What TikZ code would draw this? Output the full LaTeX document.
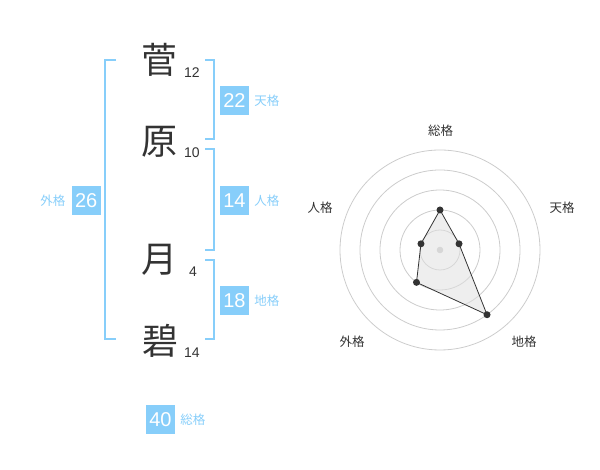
\documentclass[tikz,border=0pt]{standalone}
\usepackage{fontspec}
\setmainfont{Liberation Sans}
\newfontfamily\jpfont{Noto Sans CJK JP}
\usepackage{xcolor}
\definecolor{sky}{RGB}{135, 206, 250}
\definecolor{ink}{RGB}{51, 51, 51}
\definecolor{ring}{RGB}{204, 204, 204}
\usepackage{tikz}
\usetikzlibrary{positioning}
\tikzstyle{kanji} = [font=\jpfont\fontsize{36}{36}\selectfont, text=ink, inner sep=0pt]
\tikzstyle{strokes} = [font=\fontsize{14}{14}\selectfont, text=ink, inner sep=0pt]
\tikzstyle{score} = [rectangle, fill=sky, text=white, font=\fontsize{20}{20}\selectfont, minimum width=29pt, minimum height=29pt, inner sep=0pt]
\tikzstyle{kaku} = [font=\jpfont\fontsize{12.5}{12.5}\selectfont, text=sky, inner sep=0pt]
\tikzstyle{bracket} = [draw=sky, line width=2pt]
\tikzstyle{axis} = [font=\jpfont\fontsize{12.5}{12.5}\selectfont, text=ink, inner sep=0pt]
\tikzstyle{vertex} = [circle, fill=ink, inner sep=0pt, minimum size=7pt]

\begin{document}
\begin{tikzpicture}[x=1pt, y=1pt, node distance=5pt]
    \useasboundingbox (0,0) rectangle (600,470);

    \node[kanji] (k1) at (159,410) {菅};
    \node[kanji] (k2) at (159,328.5) {原};
    \node[kanji] (k3) at (159,210) {月};
    \node[kanji] (k4) at (160,129.5) {碧};
    \node[strokes] (s1) at (192,397) {12};
    \node[strokes] (s2) at (192,317) {10};
    \node[strokes] (s3) at (193,198) {4};
    \node[strokes] (s4) at (192,117) {14};

    \draw[bracket] (116,410) -- (105,410) -- (105,130.7) -- (116,130.7);
    \draw[bracket] (205,410) -- (214.3,410) -- (214.3,330.7) -- (205,330.7);
    \draw[bracket] (205,320.7) -- (214.3,320.7) -- (214.3,220) -- (205,220);
    \draw[bracket] (205,210) -- (214.3,210) -- (214.3,130.7) -- (205,130.7);

    \node[score] (ten) at (234.5,369.7) {22};
    \node[kaku, right=5pt of ten] {天格};
    \node[score] (jin) at (234.5,269.7) {14};
    \node[kaku, right=5pt of jin] {人格};
    \node[score] (chi) at (234.5,169.7) {18};
    \node[kaku, right=5pt of chi] {地格};
    \node[score] (gai) at (86.2,269.7) {26};
    \node[kaku, left=6pt of gai] {外格};
    \node[score] (so) at (160.5,50.7) {40};
    \node[kaku, right=5pt of so] {総格};

    \begin{scope}[shift={(440,220)}]
        \foreach \r in {20,40,60,80,100}
            \draw[ring, line width=0.8pt] (0,0) circle[radius=\r];
        \fill[ring] (0,0) circle[radius=3.3];
        \coordinate (p-so) at (90:40);
        \coordinate (p-ten) at (18:20);
        \coordinate (p-chi) at (-54:80);
        \coordinate (p-gai) at (-126:40);
        \coordinate (p-jin) at (162:20);
        \draw[draw=ink, line width=0.8pt, fill=black!12, fill opacity=0.55] (p-so) -- (p-ten) -- (p-chi) -- (p-gai) -- (p-jin) -- cycle;
        \foreach \p in {so,ten,chi,gai,jin}
            \node[vertex] (v-\p) at (p-\p) {};
        \node[axis] (a-so) at (0.7,119.3) {総格};
        \node[axis] (a-ten) at (122,42) {天格};
        \node[axis] (a-jin) at (-120,42) {人格};
        \node[axis] (a-gai) at (-88,-92) {外格};
        \node[axis] (a-chi) at (84,-92) {地格};
    \end{scope}
\end{tikzpicture}
\end{document}
